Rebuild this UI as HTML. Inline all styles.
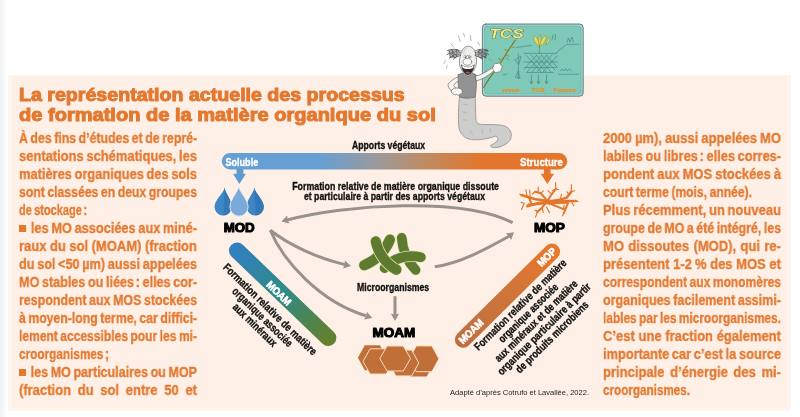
<!DOCTYPE html>
<html><head><meta charset="utf-8"><title>MOS</title>
<style>
html,body{margin:0;padding:0;background:#fff;}
body{width:800px;height:417px;position:relative;overflow:hidden;font-family:"Liberation Sans",sans-serif;}
#edge{position:absolute;left:0;top:0;width:7px;height:417px;background:linear-gradient(to right,#eff1f3,#ffffff);}
#panel{position:absolute;left:8px;top:74.5px;width:782.5px;height:336px;background:#FEF5EE;}
#panel2{position:absolute;left:12px;top:77px;width:775px;height:330.5px;background:#FEF0E7;}
.bl,.ti{will-change:transform;}
.bl{position:absolute;white-space:nowrap;font-weight:bold;font-size:14.3px;line-height:16px;height:16px;color:#E3782F;transform-origin:0 0;word-spacing:-1.0px;-webkit-text-stroke:0.3px #E3782F;}
.sq{display:inline-block;width:7.7px;height:6.5px;background:#E3782F;margin-right:5.6px;vertical-align:1.3px;}
.c{margin-left:2px;font-weight:bold;}
.ti{position:absolute;white-space:nowrap;font-weight:bold;color:#E3782F;transform-origin:0 0;-webkit-text-stroke:1.0px #E3782F;}
svg{position:absolute;left:0;top:0;will-change:transform;}
svg text{font-family:"Liberation Sans",sans-serif;}
</style></head><body>
<div id="edge"></div>
<div id="panel"></div>
<div id="panel2"></div>

<div class="ti" id="t1" style="left:19.3px;top:82.5px;font-size:18px;line-height:24px;transform:scaleX(1.089);">La représentation actuelle des processus</div>
<div class="ti" id="t2" style="left:19.3px;top:103.2px;font-size:18px;line-height:24px;transform:scaleX(1.114);">de formation de la matière organique du sol</div>

<div class="bl" style="left:19.3px;top:129.55px;width:206.92px;transform:scaleX(0.8602);text-align:justify;text-align-last:justify;">À des fins d’études et de repré-</div>
<div class="bl" style="left:19.3px;top:147.55px;width:196.66px;transform:scaleX(0.9051);text-align:justify;text-align-last:justify;">sentations schématiques, les</div>
<div class="bl" style="left:19.3px;top:165.55px;width:198.03px;transform:scaleX(0.8988);text-align:justify;text-align-last:justify;">matières organiques des sols</div>
<div class="bl" style="left:19.3px;top:183.55px;width:208.16px;transform:scaleX(0.8551);text-align:justify;text-align-last:justify;">sont classées en deux groupes</div>
<div class="bl" style="left:19.3px;top:201.55px;width:90.41px;transform:scaleX(0.7692);">de stockage<b class=c>:</b></div>
<div class="bl" style="left:19.3px;top:219.55px;width:199.22px;transform:scaleX(0.8935);text-align:justify;text-align-last:justify;"><i class=sq></i>les MO associées aux miné-</div>
<div class="bl" style="left:19.3px;top:237.55px;width:195.60px;transform:scaleX(0.9100);text-align:justify;text-align-last:justify;">raux du sol (MOAM) (fraction</div>
<div class="bl" style="left:19.3px;top:255.55px;width:200.70px;transform:scaleX(0.8869);text-align:justify;text-align-last:justify;">du sol <50 µm) aussi appelées</div>
<div class="bl" style="left:19.3px;top:273.55px;width:202.02px;transform:scaleX(0.8811);text-align:justify;text-align-last:justify;">MO stables ou liées<b class=c>:</b> elles cor-</div>
<div class="bl" style="left:19.3px;top:291.55px;width:205.17px;transform:scaleX(0.8676);text-align:justify;text-align-last:justify;">respondent aux MOS stockées</div>
<div class="bl" style="left:19.3px;top:309.55px;width:208.12px;transform:scaleX(0.8553);text-align:justify;text-align-last:justify;">à moyen-long terme, car diffici-</div>
<div class="bl" style="left:19.3px;top:327.55px;width:211.34px;transform:scaleX(0.8422);text-align:justify;text-align-last:justify;">lement accessibles pour les mi-</div>
<div class="bl" style="left:19.3px;top:345.55px;width:111.28px;transform:scaleX(0.8236);">croorganismes<b class=c>;</b></div>
<div class="bl" style="left:19.3px;top:363.55px;width:203.14px;transform:scaleX(0.8762);text-align:justify;text-align-last:justify;"><i class=sq></i>les MO particulaires ou MOP</div>
<div class="bl" style="left:19.3px;top:381.55px;width:195.60px;transform:scaleX(0.9100);text-align:justify;text-align-last:justify;">(fraction du sol entre 50 et</div>
<div class="bl" style="left:602.8px;top:129.55px;width:195.60px;transform:scaleX(0.9100);text-align:justify;text-align-last:justify;">2000 µm), aussi appelées MO</div>
<div class="bl" style="left:602.8px;top:147.55px;width:199.05px;transform:scaleX(0.8943);text-align:justify;text-align-last:justify;">labiles ou libres<b class=c>:</b> elles corres-</div>
<div class="bl" style="left:602.8px;top:165.55px;width:195.60px;transform:scaleX(0.9100);text-align:justify;text-align-last:justify;">pondent aux MOS stockées à</div>
<div class="bl" style="left:602.8px;top:183.55px;width:177.77px;transform:scaleX(0.8477);">court terme (mois, année).</div>
<div class="bl" style="left:602.8px;top:201.55px;width:195.62px;transform:scaleX(0.9099);text-align:justify;text-align-last:justify;">Plus récemment, un nouveau</div>
<div class="bl" style="left:602.8px;top:219.55px;width:206.12px;transform:scaleX(0.8636);text-align:justify;text-align-last:justify;">groupe de MO a été intégré, les</div>
<div class="bl" style="left:602.8px;top:237.55px;width:195.60px;transform:scaleX(0.9100);text-align:justify;text-align-last:justify;">MO dissoutes (MOD), qui re-</div>
<div class="bl" style="left:602.8px;top:255.55px;width:195.60px;transform:scaleX(0.9100);text-align:justify;text-align-last:justify;">présentent 1-2<b class=c style='margin-left:3.2px'>%</b> des MOS et</div>
<div class="bl" style="left:602.8px;top:273.55px;width:211.72px;transform:scaleX(0.8407);text-align:justify;text-align-last:justify;">correspondent aux monomères</div>
<div class="bl" style="left:602.8px;top:291.55px;width:203.00px;transform:scaleX(0.8768);text-align:justify;text-align-last:justify;">organiques facilement assimi-</div>
<div class="bl" style="left:602.8px;top:309.55px;width:214.73px;transform:scaleX(0.8289);text-align:justify;text-align-last:justify;">lables par les microorganismes.</div>
<div class="bl" style="left:602.8px;top:327.55px;width:195.60px;transform:scaleX(0.9100);text-align:justify;text-align-last:justify;">C’est une fraction également</div>
<div class="bl" style="left:602.8px;top:345.55px;width:198.62px;transform:scaleX(0.8962);text-align:justify;text-align-last:justify;">importante car c’est la source</div>
<div class="bl" style="left:602.8px;top:363.55px;width:195.60px;transform:scaleX(0.9100);text-align:justify;text-align-last:justify;">principale d’énergie des mi-</div>
<div class="bl" style="left:602.8px;top:381.55px;width:108.48px;transform:scaleX(0.8170);">croorganismes.</div>
<svg id="dg" width="800" height="417" viewBox="0 0 800 417">
<defs>
<linearGradient id="gbar" x1="221" y1="0" x2="568" y2="0" gradientUnits="userSpaceOnUse">
<stop offset="0" stop-color="#659FD4"/><stop offset="0.28" stop-color="#659FD4"/>
<stop offset="0.445" stop-color="#9A9A9E"/><stop offset="0.57" stop-color="#BA8E6A"/>
<stop offset="0.75" stop-color="#E3762C"/><stop offset="1" stop-color="#E3762C"/>
</linearGradient>
<linearGradient id="gl" x1="237" y1="250.6" x2="328" y2="338" gradientUnits="userSpaceOnUse">
<stop offset="0" stop-color="#3080BE"/><stop offset="0.5" stop-color="#2F8B84"/><stop offset="1" stop-color="#63802F"/>
</linearGradient>
<linearGradient id="gr" x1="552" y1="251.7" x2="463" y2="339.6" gradientUnits="userSpaceOnUse">
<stop offset="0" stop-color="#E8782B"/><stop offset="0.4" stop-color="#D2753A"/><stop offset="1" stop-color="#BF7040"/>
</linearGradient>
</defs>
<rect x="221.8" y="153" width="345.5" height="16.5" rx="8.25" fill="url(#gbar)"/>
<text x="225.5" y="166.3" font-size="11.5" font-weight="bold" fill="#fff" textLength="32.7" lengthAdjust="spacingAndGlyphs" stroke="#fff" stroke-width="0.35">Soluble</text>
<text x="520.1" y="166.3" font-size="11.5" font-weight="bold" fill="#fff" textLength="42.9" lengthAdjust="spacingAndGlyphs" stroke="#fff" stroke-width="0.35">Structure</text>
<polygon points="236.6,169 243.4,169 243.4,173.8 245.9,173.8 239.4,184 233,173.8 236.6,173.8" fill="#5E9BD2"/>
<polygon points="543.9,169 550.6,169 550.6,173.8 554.1,173.8 547.4,184 540.7,173.8 543.9,173.8" fill="#E3762C"/>
<text x="352" y="148.7" font-size="11" font-weight="bold" fill="#111" textLength="73.2" lengthAdjust="spacingAndGlyphs" stroke="#111" stroke-width="0.35">Apports végétaux</text>
<text x="292.2" y="190" font-size="11" font-weight="bold" fill="#111" textLength="206.8" lengthAdjust="spacingAndGlyphs" stroke="#111" stroke-width="0.35">Formation relative de matière organique dissoute</text>
<text x="303.9" y="200.1" font-size="11" font-weight="bold" fill="#111" textLength="181.1" lengthAdjust="spacingAndGlyphs" stroke="#111" stroke-width="0.35">et particulaire à partir des apports végétaux</text>
<text x="357.0" y="290.5" font-size="10.8" font-weight="bold" fill="#111" textLength="72.2" lengthAdjust="spacingAndGlyphs" stroke="#111" stroke-width="0.35">Microorganismes</text>
<text x="223.7" y="231.6" font-size="12" font-weight="bold" fill="#000" textLength="31.0" lengthAdjust="spacingAndGlyphs" stroke="#000" stroke-width="1.0" stroke-linejoin="round">MOD</text>
<text x="534.0" y="231.6" font-size="12" font-weight="bold" fill="#000" textLength="30.9" lengthAdjust="spacingAndGlyphs" stroke="#000" stroke-width="1.0" stroke-linejoin="round">MOP</text>
<text x="372.6" y="337.4" font-size="12.3" font-weight="bold" fill="#000" textLength="42.7" lengthAdjust="spacingAndGlyphs" stroke="#000" stroke-width="1.0" stroke-linejoin="round">MOAM</text>
<text x="450" y="395" font-size="7.6" font-weight="normal" fill="#222" textLength="139.0" lengthAdjust="spacingAndGlyphs" >Adapté d’après Cotrufo et Lavallée, 2022.</text>
<g fill="none" stroke="#98918C" stroke-width="3.0">
<path d="M512.6,222.6 C 462,196.5 345,204.5 287,220"/>
<path d="M270.3,230.3 C 289,245 318,258.5 345,264.6"/>
<path d="M270.3,230.3 C 283,261 320,302 366,315.8"/>
<path d="M395,296.2 L395,315"/>
<path d="M434.8,266.7 C 460,263.5 487,248.5 509.5,236"/>
</g>
<polygon points="281.4,221.6 287.1,215.6 287.6,219.7 289.5,223.4" fill="#98918C"/>
<polygon points="351.0,265.9 343.1,268.4 344.6,264.5 344.8,260.4" fill="#98918C"/>
<polygon points="372.3,318.0 364.1,319.4 366.2,315.8 366.9,311.7" fill="#98918C"/>
<polygon points="395.0,321.0 390.9,313.8 395.0,314.5 399.1,313.8" fill="#98918C"/>
<polygon points="514.0,232.2 511.1,239.9 509.0,236.3 505.8,233.6" fill="#98918C"/>
<path d="M224.5,187.7 C225.5,193.7 231.7,199.4 231.7,206.9 A8.6,8.6 0 0 1 214.5,206.9 C214.5,199.4 223.5,193.7 224.5,187.7 Z" fill="#3F86C4"/><path d="M224.5,187.7 C225.5,193.7 231.7,199.4 231.7,206.9 A8.6,8.6 0 0 1 223.6,215.5 Z" fill="#3479B7"/>
<path d="M254.29999999999998,187.7 C255.29999999999998,193.7 263.8,199.4 263.8,206.9 A8.6,8.6 0 0 1 246.6,206.9 C246.6,199.4 253.29999999999998,193.7 254.29999999999998,187.7 Z" fill="#3F86C4"/><path d="M254.29999999999998,187.7 C255.29999999999998,193.7 263.8,199.4 263.8,206.9 A8.6,8.6 0 0 1 255.7,215.5 Z" fill="#3479B7"/>
<g stroke="#FEF0E7" stroke-width="0.8"><path d="M238.7,186.3 C239.7,192.3 248.1,199.6 248.1,207.1 A9.1,9.1 0 0 1 229.9,207.1 C229.9,199.6 237.7,192.3 238.7,186.3 Z" fill="#7AAADB"/></g>
<g fill="none" stroke="#E3762C" stroke-linecap="round" stroke-linejoin="round">
<g stroke-width="2.5">
<path d="M521.5,195.0 L534.4,199.0 L547.4,201.0 L562.5,200.9 L575.9,200.9"/>
<path d="M527.4,206.3 L538.7,203.0 L547.4,201.9 L558.1,200.1 L566.8,197.6 L571.4,191.5"/>
<path d="M528.5,204.8 L547.4,203.0 L566.8,202.6"/>
</g><g stroke-width="2.0">
<path d="M535.0,191.8 L540.9,193.3 L545.7,199.0 L551.1,204.1 L563.5,209.1"/>
<path d="M555.8,189.0 L551.1,195.0 L547.4,201.2 L542.0,207.7 L537.1,212.3"/>
<path d="M568.1,202.6 L565.7,208.7 L563.8,213.1"/>
<path d="M529.0,196.9 L531.2,203.9"/>
</g><g stroke-width="1.15">
<path d="M525.8,189.7 L527.1,196.6 M529.7,190.1 L530.1,197.2 M538.2,187.1 L538.3,192.2 M535.0,191.8 L532.3,194.2 M555.6,182.5 L555.7,189.2 M555.7,188.8 L558.7,189.7 M555.7,188.8 L552.2,190.9 M547.9,190.7 L551.7,194.2 M571.5,184.7 L571.3,191.7 M571.3,191.7 L574.5,190.7 M568.9,194.2 L567.0,191.8 M561.4,194.2 L560.3,199.6 M575.9,200.9 L578.1,201.5 M571.1,201.2 L573.8,205.8 M563.5,209.1 L566.6,206.9 M563.8,213.1 L562.5,215.8 M521.5,209.5 L524.2,203.4 M524.2,203.4 L520.9,202.3 M521.5,195.0 L519.9,194.2 M535.5,217.1 L537.9,210.9 M537.9,210.9 L535.0,210.4 M542.0,207.7 L543.3,212.3 M549.5,212.7 L546.5,206.9 M551.1,204.1 L556.0,206.3 M547.4,201.9 L549.5,205.0 M563.5,209.1 L564.1,205.0 M540.9,193.3 L543.3,190.9"/>
</g></g>
<path d="M389.9,239.6 C386,250 377,260 364.2,265.2" fill="none" stroke="#E4E0B4" stroke-width="11.7" stroke-linecap="round"/><path d="M389.9,239.6 C386,250 377,260 364.2,265.2" fill="none" stroke="#5E7A2E" stroke-width="10.2" stroke-linecap="round"/>
<path d="M401.7,237.8 C402.5,249 407,261 415.6,270" fill="none" stroke="#E4E0B4" stroke-width="11.1" stroke-linecap="round"/><path d="M401.7,237.8 C402.5,249 407,261 415.6,270" fill="none" stroke="#5E7A2E" stroke-width="9.6" stroke-linecap="round"/>
<path d="M384.6,268 C392,259 406,254 420.8,257.2" fill="none" stroke="#E4E0B4" stroke-width="11.3" stroke-linecap="round"/><path d="M384.6,268 C392,259 406,254 420.8,257.2" fill="none" stroke="#5E7A2E" stroke-width="9.8" stroke-linecap="round"/>
<path d="M375.8,241.4 C378,253 386.5,264.5 396.4,269.6" fill="none" stroke="#E4E0B4" stroke-width="11.7" stroke-linecap="round"/><path d="M375.8,241.4 C378,253 386.5,264.5 396.4,269.6" fill="none" stroke="#5E7A2E" stroke-width="10.2" stroke-linecap="round"/>
<polygon points="357.9,357.8 364.8,345.2 380.0,345.2 386.8,357.8 380.0,370.2 364.8,370.2" fill="#C06F39"/>
<polygon points="403.8,364.0 410.9,351.5 426.7,351.5 433.8,364.0 426.7,376.5 410.9,376.5" fill="#C06F39"/>
<polygon points="409.3,358.8 416.3,345.9 431.9,345.9 438.9,358.8 431.9,371.7 416.3,371.7" fill="#C06F39" stroke="#FBDDBD" stroke-width="1.0" stroke-linejoin="miter"/>
<polygon points="388.8,363.0 395.9,350.1 411.7,350.1 418.8,363.0 411.7,375.9 395.9,375.9" fill="#C06F39" stroke="#FBDDBD" stroke-width="1.0" stroke-linejoin="miter"/>
<polygon points="363.0,361.4 370.1,348.8 386.1,348.8 393.2,361.4 386.1,374.0 370.1,374.0" fill="#C06F39" stroke="#FBDDBD" stroke-width="1.0" stroke-linejoin="miter"/>
<polygon points="379.8,358.5 387.1,346.0 403.3,346.0 410.6,358.5 403.3,371.0 387.1,371.0" fill="#C06F39" stroke="#FBDDBD" stroke-width="1.0" stroke-linejoin="miter"/>
<line x1="237.1" y1="250.6" x2="328.2" y2="337.9" stroke="url(#gl)" stroke-width="16.3" stroke-linecap="round"/>
<line x1="551.9" y1="251.7" x2="463" y2="339.6" stroke="url(#gr)" stroke-width="16.3" stroke-linecap="round"/>
<g transform="translate(279.0,293.2) rotate(44)"><text x="-15" y="3.7" font-size="10.4" font-weight="bold" fill="#fff" textLength="30" lengthAdjust="spacingAndGlyphs" stroke="#fff" stroke-width="0.6" stroke-linejoin="round">MOAM</text></g>
<g transform="translate(471.0,331.4) rotate(-44.7)"><text x="-15" y="3.7" font-size="10.4" font-weight="bold" fill="#fff" textLength="30" lengthAdjust="spacingAndGlyphs" stroke="#fff" stroke-width="0.6" stroke-linejoin="round">MOAM</text></g>
<g transform="translate(546.6,257.0) rotate(-44.7)"><text x="-11" y="3.7" font-size="10.4" font-weight="bold" fill="#fff" textLength="22" lengthAdjust="spacingAndGlyphs" stroke="#fff" stroke-width="0.6" stroke-linejoin="round">MOP</text></g>
<g transform="translate(267.6,312.0) rotate(44.3)">
<text x="-62.9" y="0.0" font-size="11" font-weight="bold" fill="#111" stroke="#111" stroke-width="0.35" textLength="125.7" lengthAdjust="spacingAndGlyphs">Formation relative de matière</text>
<text x="-39.7" y="10.9" font-size="11" font-weight="bold" fill="#111" stroke="#111" stroke-width="0.35" textLength="79.4" lengthAdjust="spacingAndGlyphs">organique associée</text>
<text x="-28.5" y="21.8" font-size="11" font-weight="bold" fill="#111" stroke="#111" stroke-width="0.35" textLength="57.0" lengthAdjust="spacingAndGlyphs">aux minéraux</text>
</g>
<g transform="translate(522.9,307.5) rotate(-44.5)">
<text x="-62.2" y="0.0" font-size="11" font-weight="bold" fill="#111" stroke="#111" stroke-width="0.35" textLength="124.5" lengthAdjust="spacingAndGlyphs">Formation relative de matière</text>
<text x="-39.5" y="11.3" font-size="11" font-weight="bold" fill="#111" stroke="#111" stroke-width="0.35" textLength="79.0" lengthAdjust="spacingAndGlyphs">organique associée</text>
<text x="-55.6" y="22.6" font-size="11" font-weight="bold" fill="#111" stroke="#111" stroke-width="0.35" textLength="111.3" lengthAdjust="spacingAndGlyphs">aux minéraux et de matière</text>
<text x="-63.0" y="33.9" font-size="11" font-weight="bold" fill="#111" stroke="#111" stroke-width="0.35" textLength="126.0" lengthAdjust="spacingAndGlyphs">organique particulaire à partir</text>
<text x="-48.7" y="45.2" font-size="11" font-weight="bold" fill="#111" stroke="#111" stroke-width="0.35" textLength="97.4" lengthAdjust="spacingAndGlyphs">de produits microbiens</text>
</g>
<g id="cartoon" stroke-linecap="round" stroke-linejoin="round">
<rect x="482.4" y="24" width="100.8" height="72.2" rx="3.5" fill="#9FD8CC" stroke="#56707E" stroke-width="0.9"/>
<rect x="484.6" y="26.2" width="96.4" height="67.8" rx="2.2" fill="#7FC9B9" stroke="#6FA9A6" stroke-width="0.6"/>
<text x="489.2" y="38" font-size="12.6" font-weight="bold" font-style="italic" fill="#EFEA86" stroke="#4E4E2A" stroke-width="0.7" paint-order="stroke" textLength="34.5" lengthAdjust="spacingAndGlyphs">TCS</text>
<g font-size="6.2" font-weight="bold" fill="#E8902A" stroke="#E8902A" stroke-width="0.25">
<text x="502.2" y="91.6" textLength="17.2" lengthAdjust="spacingAndGlyphs">revue</text>
<text x="531.4" y="91.6" textLength="13.2" lengthAdjust="spacingAndGlyphs">TCS</text>
<text x="553.5" y="91.6" textLength="22.2" lengthAdjust="spacingAndGlyphs">France</text>
</g>
<g fill="none" stroke="#3F7E7C" stroke-width="0.6">
<path d="M524.3,53.3 L556.6,53.3 M539.4,46 L539.4,53.3 M516.3,47.4 L531.4,45.4 M556.6,52.4 L566.6,44.4 L578.7,44.2 M558.6,74.4 L578.7,74.2 M518.3,54.3 L518.3,78.4"/>
<path d="M526,55 L541,72 M531,55 L546,72 M536,55 L551,72 M541,55 L555,70 M546,55 L557,67 M552,55 L537,72 M547,55 L532,72 M542,55 L527,72 M537,55 L524,69 M557,56 L543,72 M524,62 L558,62 M525,67.5 L557,67.5 M527,72.5 L553,72.5"/>
<path d="M531.4,75 L531.4,83 M538.4,75 L538.4,83 M546.5,75 L546.5,83 M530,81 L531.4,84 L532.8,81 M537,81 L538.4,84 L539.8,81 M545.1,81 L546.5,84 L547.9,81"/>
<path d="M515,60 L521,56 L519,64 Z M515.5,77 L518.3,71 L520,78 Z M560,71 l2,-2 l1.5,2 l2,-2.5 l1.5,2.5 l2.5,-2 l2,2 M567,42 l1.5,-4 l1.5,4 l2,-5 l1.5,5 M552,40 l1,-5 M555,40 l0.5,-5.5 M506,58 l3,2 M503,75 l4,-1"/>
</g>
<g fill="#E6DC5C" stroke="#7E7A2C" stroke-width="0.4">
<path d="M539.4,46.5 C536,44 533,40 534,35.5 C537,37 539,41 539.4,46.5 Z"/>
<path d="M539.6,46.5 C540,41 542.5,37 546,35.5 C546.5,40 543.5,44.5 539.6,46.5 Z"/>
<path d="M539.5,46 C538,42 538.5,37.5 540,34.5 C541.5,38 541,42.5 539.5,46 Z"/>
<path d="M546,44.5 C546.5,41 548,38.5 550,37.5 C550,41 548.5,43.5 546,44.5 Z"/>
</g>
<path d="M483.5,87.5 C488,80 493,73 497.5,67.5 C503,59 509,49 515.3,40.2" fill="none" stroke="#7C7A36" stroke-width="1.2"/>
<path d="M502,61 l-3.5,-2.5 M505.5,55.5 l3.5,0.5 M508,51 l-3.2,-1.6 M511,46.5 l3,1" fill="none" stroke="#8E9A3A" stroke-width="1.1"/>
<path d="M459.4,97.5 C458.4,107 458.2,118 458.7,126 C459.2,133 464,138.6 471.6,139.6 C479,140.4 488,139 496,136 C498,137.5 498.3,139.5 497,141 C495,143.5 492,144.5 490.3,145.6 C491,147.6 493.5,148 496,147.6 C501,147 507,144.5 509.8,140.4 C512,137 511.8,132.5 509.5,129.5 C507,126.2 503.5,125.4 500,125 C494,124.3 486,124.8 480.4,124.3 C477,124 476,121.5 475.9,118.8 C475.6,111 475.4,104 475.2,97.5 Z" fill="#CDCDCB" stroke="#8F8F8F" stroke-width="0.8"/>
<path d="M463,104 l4.5,0.6 M462.5,112 l4,0.5 M463.5,120 l3.5,0.2 M482,129 l0.5,4.5 M490,128.5 l0.8,4 M470,131 l2.5,3.5" fill="none" stroke="#A9A9A9" stroke-width="0.6"/>
<path d="M459,76.5 C454,78.5 449.5,81.5 448.2,84.2 C447.6,86 449,88.5 451,90.5 C452.2,92.2 454,93.5 456,93.8 C458.5,94.2 461,93.2 462.2,91.6 C461,90.2 458.5,89.8 456.5,88.8 C454.8,87.6 453.6,86 453.8,84.8 C455,83 457.5,81.5 459.6,80.4 Z" fill="#F7F5F0" stroke="#6A6A6A" stroke-width="0.7"/>
<path d="M458.2,74.8 C461,73.2 464,72.4 467,73.4 C470,72.4 473.5,73 476.2,74.8 C476.8,82 476.2,90 475.4,96.8 C470,98.6 464.5,98.6 459.5,97 C458.4,90 458,82 458.2,74.8 Z" fill="#939393" stroke="#666666" stroke-width="0.7"/>
<path d="M451.6,90.2 C452.6,88.2 456,87.6 459,88.2 C461.4,88.6 462.6,90 462,91.4 C463,92.6 462,94.2 460.4,94 C459.6,95.4 457.4,95.4 456.6,94.4 C455,95.2 453,94.6 452.6,93.2 C451.2,92.8 450.8,91.2 451.6,90.2 Z" fill="#FBFAF6" stroke="#6A6A6A" stroke-width="0.7"/>
<path d="M475.8,76.2 C481,75 487,71.5 492.6,67.4 L494.4,70.4 C489,75 482.5,79.5 476.4,80.8 Z" fill="#F7F5F0" stroke="#6A6A6A" stroke-width="0.7"/>
<path d="M493.4,66.2 C493.2,64 495.4,62.8 497,63.6 C498.4,62.4 500.8,63 501,65 C502.6,65.6 502.6,68 501.2,68.8 C501.8,70.8 500,72.4 498.2,71.8 C496.8,73.4 494.2,72.8 493.9,70.8 C492.4,69.8 492.2,67.4 493.4,66.2 Z" fill="#FBFAF6" stroke="#6A6A6A" stroke-width="0.7"/>
<path d="M467.7,76.2 C464,75 460.6,69.5 459.6,64.5 C459,61 459.8,57.5 460.8,54.2 C461.6,49.5 464.4,46.2 468.2,46.2 C472,46.2 474.8,49.5 475.6,54.2 C476.6,57.5 477,61 476.2,64.5 C475,69.5 471.4,75 467.7,76.2 Z" fill="#EFEEEB" stroke="#6A6A6A" stroke-width="0.7"/>
<path d="M461.2,64.2 C464,67.6 471.6,67.6 474.6,64.2 C474.2,70.5 471,74.6 467.8,75 C464.6,74.6 461.6,70.5 461.2,64.2 Z" fill="#2F2F2F"/>
<path d="M462,65.2 C465,67.8 470.8,67.8 473.8,65.2 L473.4,67.4 C470.6,69.4 465.2,69.4 462.4,67.4 Z" fill="#FFFFFF"/>
<path d="M465.4,72.6 C466.6,71.4 469,71.4 470.2,72.6 C469.4,74 466.4,74 465.4,72.6 Z" fill="#B85A4A"/>
<ellipse cx="467.4" cy="61.8" rx="4.3" ry="3.3" fill="#FCFCFA" stroke="#6A6A6A" stroke-width="0.6"/>
<ellipse cx="465.2" cy="56.8" rx="1.2" ry="1.6" fill="#fff" stroke="#555" stroke-width="0.4"/><ellipse cx="469.6" cy="56.8" rx="1.2" ry="1.6" fill="#fff" stroke="#555" stroke-width="0.4"/>
<circle cx="465.5" cy="57.1" r="0.55" fill="#222"/><circle cx="469.3" cy="57.1" r="0.55" fill="#222"/>
<circle cx="467.6" cy="55.6" r="0.5" fill="#B04A3A"/>
<g fill="none" stroke="#555555" stroke-width="0.85">
<path d="M460.4,51 C457,49 452,48.5 447.5,50.5 M460.3,52.5 C456,51.5 451,52 447,54.5 M460.4,54 C456.5,54 452.5,55.5 449.5,58 M460.6,55.5 C457.5,56.2 455,57.5 453,59.5 M449,50.5 C450.5,52.5 449,55 450.5,57 M452.5,49.5 C454,52 452.5,55 454.5,57.5 M456,49.6 C457,52 456,54.5 457.5,56.5"/>
<path d="M475.3,51 C478.5,49 483.5,48.5 488,50.5 M475.4,52.5 C479.5,51.5 484.5,52 488.5,54.5 M475.3,54 C479,54 483,55.5 486,58 M475.1,55.5 C478,56.2 480.5,57.5 482.5,59.5 M486.5,50.5 C485,52.5 486.5,55 485,57 M483,49.5 C481.5,52 483,55 481,57.5 M479.5,49.6 C478.5,52 479.5,54.5 478,56.5"/>
</g>
<g fill="#8A8A8A" opacity="0.6"><ellipse cx="454.2" cy="53.6" rx="5.6" ry="3.8"/><ellipse cx="482" cy="53.6" rx="5.6" ry="3.8"/></g>
<path d="M448.5,52 c1.5,-2 4,-2 4.5,0 c0.5,2 -2.5,3 -3.5,1.2 M452.5,55.5 c1,-2 3.8,-1.6 4,0.4 c0.2,2 -2.6,2.6 -3.4,0.8 M455.5,51 c1.2,-1.6 3.4,-1 3.4,0.6 M450,57 c1.2,0.8 2.6,0.6 3.4,-0.4 M478,51.4 c1.2,-1.8 3.6,-1.6 4,0.2 c0.4,2 -2.4,2.8 -3.4,1 M482.5,55 c1,-2 3.8,-1.6 4,0.4 c0.2,2 -2.6,2.6 -3.4,0.8 M484.5,50.6 c1.4,-1.2 3.2,-0.6 3.4,0.8 M479,57 c1,1 2.6,1 3.6,0" fill="none" stroke="#3E3E3E" stroke-width="0.7"/>
<path d="M462.2,52.5 C462.6,49 465,47.2 468.2,47.2 C466,48.6 464.4,51 464,54.2 Z" fill="#D2D2D0" opacity="0.8"/>
<path d="M458.6,36 l1.6,5.6 M470.2,35.2 l0.8,5.8 M451,43.6 l2.6,3.4 M477.8,41.8 l1.8,3.4 M445.6,60.6 l-1.8,3 M489.4,58.6 l2.2,2.4 M463.6,33.2 l1,3.6 M447.2,65.5 l-0.8,2.6" fill="none" stroke="#7A7A7A" stroke-width="0.55"/>
</g>
</svg>
</body></html>
